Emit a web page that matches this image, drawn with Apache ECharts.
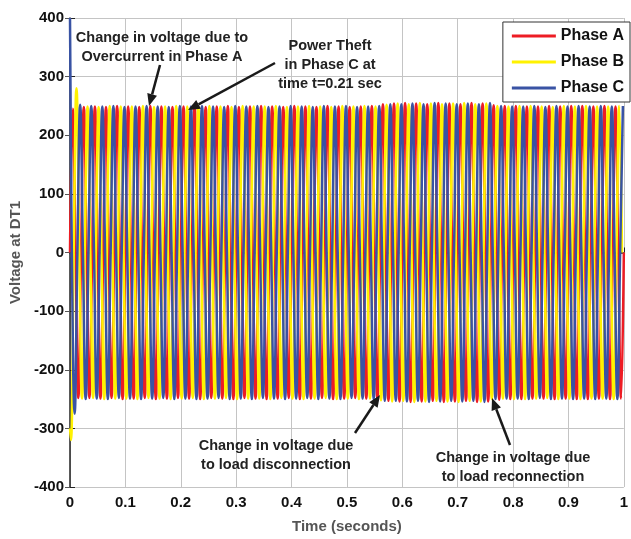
<!DOCTYPE html>
<html>
<head>
<meta charset="utf-8">
<script src="https://cdn.jsdelivr.net/npm/echarts@6/dist/echarts.min.js"></script>
<style>
  html, body { margin: 0; padding: 0; background: #fff; }
  #chart { width: 631px; height: 539px; }
</style>
</head>
<body>
<div id="chart"></div>
<script>
// supply frequency (Hz) and phase angles of A, B, C (degrees)
const freq = 50;
const phaseNames = ['Phase A', 'Phase B', 'Phase C'];
const phaseAngles = [0, -120, 120];

// value of each phase at t = 0 and its first extremes (start-up transient)
const startValues = [0, -300, 400];
const firstMax = [245, 280, 252];
const firstMin = [-248, -320, -275];

// peak amplitude (50 cycles in 1 s)
const ampA = [246, 248, 249, 248, 250, 249, 248, 250, 249, 248,
              249, 250, 248, 249, 250, 248, 249, 250, 249, 248,
              250, 249, 248, 250, 249, 248, 249, 250, 253, 254,
              255, 254, 253, 255, 254, 253, 255, 254, 251, 250,
              250, 249, 249, 250, 249, 250, 250, 249, 250, 249];
const ampB = [250, 249, 248, 250, 249, 249, 250, 248, 249, 250,
              249, 248, 250, 249, 248, 250, 249, 249, 250, 248,
              249, 250, 249, 248, 250, 249, 250, 249, 252, 254,
              253, 255, 254, 253, 254, 255, 253, 254, 250, 249,
              250, 250, 249, 248, 250, 249, 250, 249, 249, 250];
const ampC = [252, 250, 249, 250, 248, 249, 250, 249, 248, 250,
              249, 250, 249, 248, 250, 249, 250, 248, 249, 250,
              249, 248, 250, 249, 250, 248, 249, 250, 253, 253,
              254, 253, 255, 254, 253, 254, 253, 255, 250, 249,
              249, 250, 248, 250, 249, 250, 249, 250, 249, 250];
const amps = [ampA, ampB, ampC];

const colors = ['#ed1c24', '#fff200', '#3953a4'];

// vertices at zero crossings and peaks of each cycle
function phaseVertices(p) {
  const phi = phaseAngles[p];
  const amp = amps[p];
  const pts = [[0, startValues[p]]];
  let k = Math.floor(phi / 90) + 1;
  let seenMax = false, seenMin = false;
  while (true) {
    const t = (k * 90 - phi) / (360 * freq);
    if (t > 1) break;
    const q = ((k % 4) + 4) % 4;
    const cyc = Math.min(amp.length - 1, Math.floor(t * freq));
    let v = 0;
    if (q === 1) { v = seenMax ? amp[cyc] : firstMax[p]; seenMax = true; }
    if (q === 3) { v = seenMin ? -amp[cyc] : firstMin[p]; seenMin = true; }
    pts.push([+t.toFixed(5), v]);
    k++;
  }
  return pts;
}

const chart = echarts.init(document.getElementById('chart'));
const fontFam = '"Liberation Sans", Arial, sans-serif';

function arrow(x1, y1, x2, y2) {
  const ang = Math.atan2(y2 - y1, x2 - x1);
  const len = 12, w = 5;
  const bx = x2 - len * Math.cos(ang), by = y2 - len * Math.sin(ang);
  const px = -Math.sin(ang) * w, py = Math.cos(ang) * w;
  return [
    { type: 'line', z: 100, shape: { x1: x1, y1: y1, x2: bx, y2: by },
      style: { stroke: '#1a1a1a', lineWidth: 2.5 } },
    { type: 'polygon', z: 100, shape: { points: [[x2, y2], [bx + px, by + py], [bx - px, by - py]] },
      style: { fill: '#1a1a1a' } }
  ];
}

function note(x, y, text) {
  return { type: 'text', z: 100, x: x, y: y,
    style: { text: text, font: 'bold 14.5px ' + fontFam, fill: '#222',
      align: 'center', verticalAlign: 'top', lineHeight: 19 } };
}

const option = {
  animation: false,
  grid: { left: 70, right: 1, top: 18, bottom: 51 },
  legend: {
    right: 1, top: 22, orient: 'vertical',
    data: phaseNames.map(n => ({ name: n, icon: 'rect' })),
    itemWidth: 44, itemHeight: 3, itemGap: 10,
    backgroundColor: '#fff', borderColor: '#333', borderWidth: 1, borderRadius: 0,
    padding: [6, 6, 6, 9],
    textStyle: { fontFamily: fontFam, fontWeight: 'bold', fontSize: 16, color: '#111', lineHeight: 16 }
  },
  xAxis: [{
    type: 'value', min: 0, max: 1, interval: 0.1,
    name: 'Time (seconds)', nameLocation: 'middle', nameGap: 32,
    nameTextStyle: { fontFamily: fontFam, fontWeight: 'bold', fontSize: 15, color: '#555' },
    axisLine: { show: true, lineStyle: { color: '#222', width: 1.5 } },
    axisTick: { inside: true, length: 5, lineStyle: { color: '#222' } },
    axisLabel: { fontFamily: fontFam, fontWeight: 'bold', fontSize: 15, color: '#111', margin: 8,
      formatter: v => (v === 0 || v === 1) ? String(v) : v.toFixed(1) },
    splitLine: { show: true, lineStyle: { color: '#c4c4c4', width: 1 } }
  }, {
    type: 'value', min: 0, max: 1, interval: 0.1, position: 'top',
    axisLine: { show: false },
    axisTick: { show: true, inside: true, length: 5, lineStyle: { color: '#555' } },
    axisLabel: { show: false }, splitLine: { show: false }
  }],
  yAxis: [{
    type: 'value', min: -400, max: 400, interval: 100,
    name: 'Voltage at DT1', nameLocation: 'middle', nameGap: 43,
    nameTextStyle: { fontFamily: fontFam, fontWeight: 'bold', fontSize: 15, color: '#555' },
    axisLine: { show: true, lineStyle: { color: '#222', width: 1.5 } },
    axisTick: { show: true, inside: true, length: 5, lineStyle: { color: '#222' } },
    axisLabel: { fontFamily: fontFam, fontWeight: 'bold', fontSize: 15, color: '#111', margin: 6 },
    splitLine: { show: true, lineStyle: { color: '#c4c4c4', width: 1 } }
  }, {
    type: 'value', min: -400, max: 400, interval: 100, position: 'right',
    axisLine: { show: false },
    axisTick: { show: true, inside: true, length: 5, lineStyle: { color: '#555' } },
    axisLabel: { show: false }, splitLine: { show: false }
  }],
  series: phaseNames.map((n, p) => ({
    name: n, type: 'line', data: phaseVertices(p),
    smooth: 0.45, showSymbol: false, sampling: 'none',
    lineStyle: { color: colors[p], width: 2.5 },
    itemStyle: { color: colors[p] },
    z: 2 + p
  })),
  graphic: [
    note(162, 28, 'Change in voltage due to\nOvercurrent in Phase A'),
    note(330, 36, 'Power Theft\nin Phase C at\ntime t=0.21 sec'),
    note(276, 436, 'Change in voltage due\nto load disconnection'),
    note(513, 448, 'Change in voltage due\nto load reconnection'),
    ...arrow(160, 65, 149, 106),
    ...arrow(275, 63, 188, 110),
    ...arrow(355, 433, 380, 395),
    ...arrow(510, 445, 492, 398)
  ]
};

chart.setOption(option);
</script>
</body>
</html>
